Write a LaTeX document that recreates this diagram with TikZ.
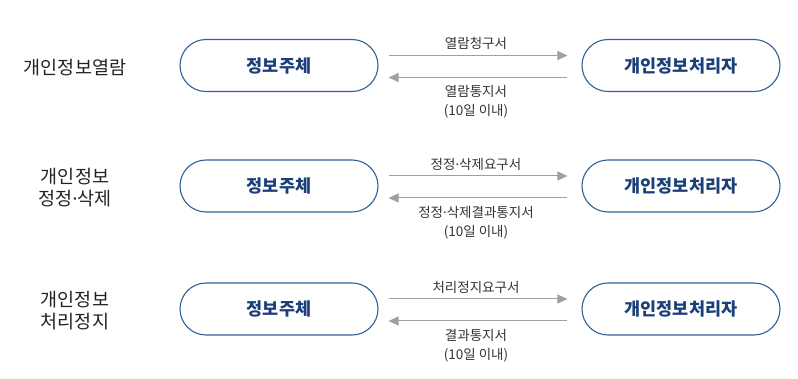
\documentclass[tikz,border=0pt]{standalone}
\usepackage{fontspec}
\setmainfont{Noto Sans CJK KR}
\newfontfamily\dotfont{Noto Sans}
\usetikzlibrary{arrows.meta,calc}
\definecolor{pillblue}{HTML}{2E5F96}
\definecolor{txtblue}{HTML}{1B3F78}
\definecolor{arrgray}{HTML}{A0A0A0}
\definecolor{lbl}{HTML}{333333}
\definecolor{dark}{HTML}{222222}
\newcommand{\md}{{\dotfont ·}}
\tikzset{
  pill/.style={draw=pillblue, line width=1.1pt, rounded corners=26pt, minimum width=198pt, minimum height=52pt, text=txtblue, font=\fontsize{17.5}{20}\selectfont\bfseries, inner sep=0pt},
  arr/.style={draw=arrgray, line width=1pt, -{Triangle[length=10pt,width=9pt]}},
  alabel/.style={text=lbl, font=\fontsize{13.5}{19}\selectfont, align=center, inner sep=0pt},
  side/.style={text=dark, font=\fontsize{18.5}{22}\selectfont, align=center, inner sep=0pt}
}
\begin{document}
\begin{tikzpicture}[x=1pt,y=-1pt]
\useasboundingbox (0,0) rectangle (798,379);
\foreach \r/\cy/\tl/\bl/\side in {1/65.5/열람청구서/열람통지서/개인정보열람, 2/186/정정\md 삭제요구서/정정\md 삭제결과통지서/{개인정보\\정정\md 삭제}, 3/309/처리정지요구서/결과통지서/{개인정보\\처리정지}}{
  \node[pill] (s\r) at (279,\cy) {정보주체};
  \node[pill] (p\r) at (681,\cy) {개인정보처리자};
  \node[side] (l\r) at (75,{\cy+2}) {\side};
  \coordinate (a\r) at ($(s\r.east)+(10pt,10pt)$);
  \coordinate (b\r) at ($(p\r.west)+(-14pt,10pt)$);
  \coordinate (c\r) at ($(p\r.west)+(-14pt,-12pt)$);
  \coordinate (d\r) at ($(s\r.east)+(10pt,-12pt)$);
  \draw[arr] (a\r) -- (b\r);
  \draw[arr] (c\r) -- (d\r);
  \node[alabel] (t\r) at (476,{\cy-22}) {\tl};
  \node[alabel] (u\r) at (476,{\cy+36.5}) {\bl\\(10일 이내)};
}
\end{tikzpicture}
\end{document}
